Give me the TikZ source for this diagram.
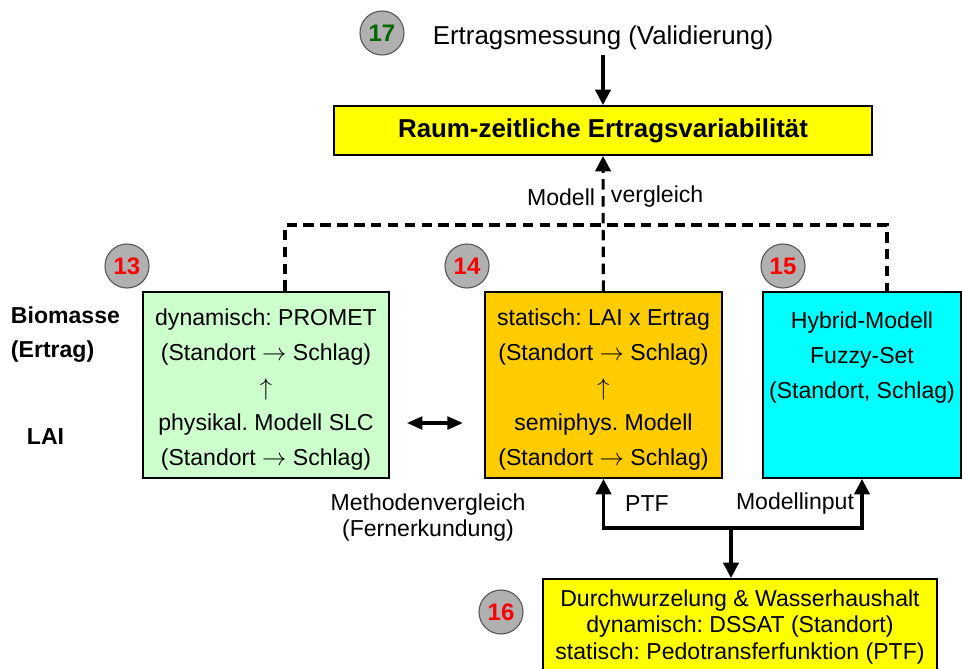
\documentclass[tikz,border=0pt]{standalone}
\usepackage{fontspec}
\setmainfont{Liberation Sans}
\usetikzlibrary{arrows.meta}
\frenchspacing

\definecolor{hellgruen}{HTML}{CCFFCC}
\definecolor{orangegelb}{HTML}{FFCC00}
\definecolor{tuerkis}{HTML}{00FFFF}
\definecolor{gelb}{HTML}{FFFF00}
\newcommand{\grossschrift}{\fontsize{16.4}{24.9}\selectfont}
\newcommand{\titelschrift}{\fontsize{18.4}{22}\selectfont}
\newcommand{\oben}{\rule{0pt}{19pt}}

\begin{document}
\begin{tikzpicture}[x=0.025cm, y=-0.025cm,
  every node/.style={font=\grossschrift},
  box/.style={draw, line width=1.4pt, inner sep=0pt, align=center, minimum height=4.65cm},
  nr/.style={circle, draw=black!65, line width=0.8pt, fill=black!31, minimum size=1.1cm, inner sep=0pt, font=\fontsize{17}{17}\selectfont\bfseries, text=red},
  arr/.style={line width=2.2pt, -{Triangle[length=11pt,width=11pt]}},
  dsh/.style={line width=2.2pt, dash pattern=on 7.5pt off 4.5pt}]
\useasboundingbox (0,0) rectangle (962,669);
\clip (0,0) rectangle (962,669);

\node[nr, text=green!40!black] (n17) at (382,33) {17};
\node[font=\titelschrift] (messung) at (603,38) {Ertragsmessung (Validierung)};
\node[box, fill=gelb, minimum width=13.45cm, minimum height=1.225cm, font=\titelschrift\bfseries] (raum) at (603,130.5) {Raum-zeitliche Ertragsvariabilität};

\node[box, fill=hellgruen, minimum width=6.15cm] (dyn) at (266,385) {\oben dynamisch: PROMET\\(Standort $\rightarrow$ Schlag)\\$\uparrow$\\physikal. Modell SLC\\(Standort $\rightarrow$ Schlag)};
\node[box, fill=orangegelb, minimum width=5.925cm] (stat) at (603.5,385) {\oben statisch: LAI x Ertrag\\(Standort $\rightarrow$ Schlag)\\$\uparrow$\\semiphys. Modell\\(Standort $\rightarrow$ Schlag)};
\node[box, fill=tuerkis, minimum width=4.95cm] (hybrid) at (862,385) {\oben Hybrid-Modell\\Fuzzy-Set\\(Standort, Schlag)\\\mbox{}\\\mbox{}};
\node[box, fill=gelb, minimum width=9.85cm, minimum height=2.4cm, font=\fontsize{16.4}{18.9}\selectfont] (wasser) at (740,627) {Durchwurzelung \& Wasserhaushalt\\dynamisch: DSSAT (Standort)\\statisch: Pedotransferfunktion (PTF)};

\node[nr] (n13) at (127,266) {13};
\node[nr] (n14) at (467,266) {14};
\node[nr] (n15) at (783,266) {15};
\node[nr] (n16) at (501,612) {16};

\node[anchor=west, align=left, font=\fontsize{16.4}{24.2}\selectfont\bfseries] (biomasse) at (6,335) {Biomasse\\(Ertrag)};
\node[anchor=west, font=\grossschrift\bfseries] (lai) at (22,437) {LAI};
\node[anchor=east] (modell) at (600,197) {Modell};
\node[anchor=west] (vergleich) at (606,197) {vergleich};
\node[align=center, font=\fontsize{16.4}{18.5}\selectfont] (methoden) at (428,518) {Methodenvergleich\\(Fernerkundung)};
\node (ptf) at (647,504) {PTF};
\node (input) at (795,504) {Modellinput};

\draw[arr] (messung) -- (raum);
\coordinate (dl) at (285,225);
\coordinate (dr) at (887,225);
\draw[dsh] (dyn.north -| dl) -- (dl) -- (dr) -- (hybrid.north -| dr);
\draw[dsh, -{Triangle[length=11pt,width=11pt]}] (stat) -- (raum);
\draw[line width=2.2pt, {Triangle[length=11pt,width=9pt]}-{Triangle[length=11pt,width=9pt]}, shorten <=12pt, shorten >=15pt] ([yshift=-0.95cm]dyn.east) -- ([yshift=-0.95cm]stat.west);

\coordinate (split) at (731,528);
\draw[arr] (split) -| (stat.south);
\draw[arr] (split) -| (hybrid.south);
\draw[arr] (split) -- (split |- wasser.north);
\end{tikzpicture}
\end{document}
